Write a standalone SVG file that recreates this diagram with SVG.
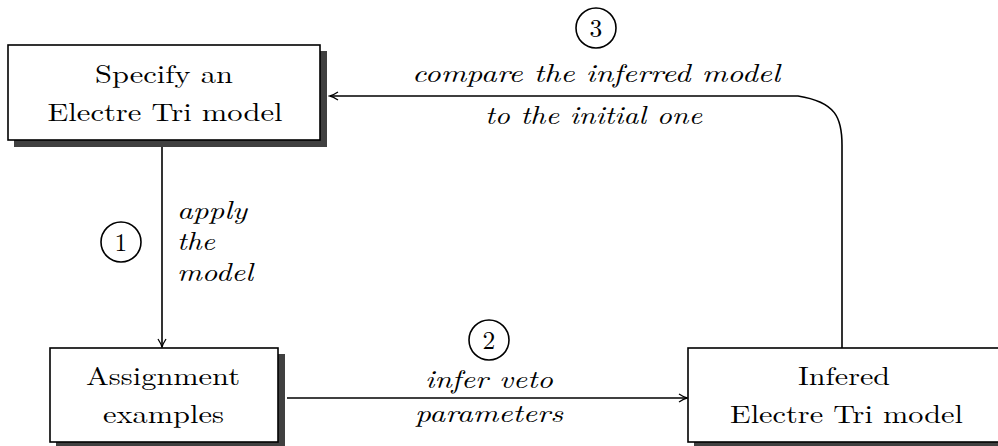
<svg xmlns="http://www.w3.org/2000/svg" width="998" height="446" viewBox="0 0 998 446">
<defs>
<style>
.box{fill:#fff;stroke:#000;stroke-width:1.6}
.shadow{fill:#404040}
text{font-family:"Latin Modern Roman","CMU Serif","Liberation Serif",Tinos,"Noto Serif","Nimbus Roman","Nimbus Roman No9 L",FreeSerif,"Times New Roman",Times,"DejaVu Serif",Georgia,serif;font-size:25.5px;fill:#000}
.t{text-anchor:middle}
.i{font-style:italic}
.ring{fill:none;stroke:#000;stroke-width:1.6}
.edge{fill:none;stroke:#000;stroke-width:1.6}
</style>
<marker id="arr" viewBox="-10 -6 12 12" refX="0" refY="0" markerWidth="12" markerHeight="12" markerUnits="userSpaceOnUse" orient="auto">
<path d="M-8,-4 Q-3,-0.8 0,0 Q-3,0.8 -8,4" fill="none" stroke="#000" stroke-width="1.3"/>
</marker>
</defs>
<rect width="998" height="446" fill="#fff"/>
<g id="connectors">
<path class="edge" d="M162,147 L162,347" marker-end="url(#arr)"/>
<path class="edge" d="M287,398 L687,398" marker-end="url(#arr)"/>
<path class="edge" d="M842,348 L842,145 C842,118 836,102 798,96 L330,96" marker-end="url(#arr)"/>
</g>
<g id="label1">
<circle class="ring" cx="121" cy="242" r="20"/>
<text class="t" x="121" y="251">1</text>
<text class="i" x="177" y="219" textLength="70" lengthAdjust="spacingAndGlyphs">apply</text>
<text class="i" x="177" y="250" textLength="38" lengthAdjust="spacingAndGlyphs">the</text>
<text class="i" x="177" y="281" textLength="76" lengthAdjust="spacingAndGlyphs">model</text>
</g>
<g id="label2">
<circle class="ring" cx="489" cy="340" r="20"/>
<text class="t" x="489" y="349">2</text>
<text class="i" x="425" y="388" textLength="128" lengthAdjust="spacingAndGlyphs">infer veto</text>
<text class="i" x="415" y="422" textLength="148" lengthAdjust="spacingAndGlyphs">parameters</text>
</g>
<g id="label3">
<circle class="ring" cx="596" cy="28" r="20"/>
<text class="t" x="596" y="37">3</text>
<text class="i" x="412" y="82" textLength="368" lengthAdjust="spacingAndGlyphs">compare the inferred model</text>
<text class="i" x="485" y="124" textLength="217" lengthAdjust="spacingAndGlyphs">to the initial one</text>
</g>
<g id="node-specify">
<rect class="shadow" x="14" y="51" width="313" height="96"/>
<rect class="box" x="8" y="45" width="312" height="95"/>
<text class="t" x="164" y="83" textLength="138" lengthAdjust="spacingAndGlyphs">Specify an</text>
<text class="t" x="165" y="121" textLength="235" lengthAdjust="spacingAndGlyphs">Electre Tri model</text>
</g>
<g id="node-assignment">
<rect class="shadow" x="56" y="354" width="229" height="92"/>
<rect class="box" x="50" y="348" width="228" height="94"/>
<text class="t" x="163" y="385" textLength="154" lengthAdjust="spacingAndGlyphs">Assignment</text>
<text class="t" x="163.5" y="423" textLength="121" lengthAdjust="spacingAndGlyphs">examples</text>
</g>
<g id="node-infered">
<rect class="shadow" x="694" y="354" width="320" height="92"/>
<rect class="box" x="688" y="348" width="316" height="94"/>
<text class="t" x="844" y="385" textLength="92" lengthAdjust="spacingAndGlyphs">Infered</text>
<text class="t" x="846.5" y="423" textLength="233" lengthAdjust="spacingAndGlyphs">Electre Tri model</text>
</g>
</svg>
